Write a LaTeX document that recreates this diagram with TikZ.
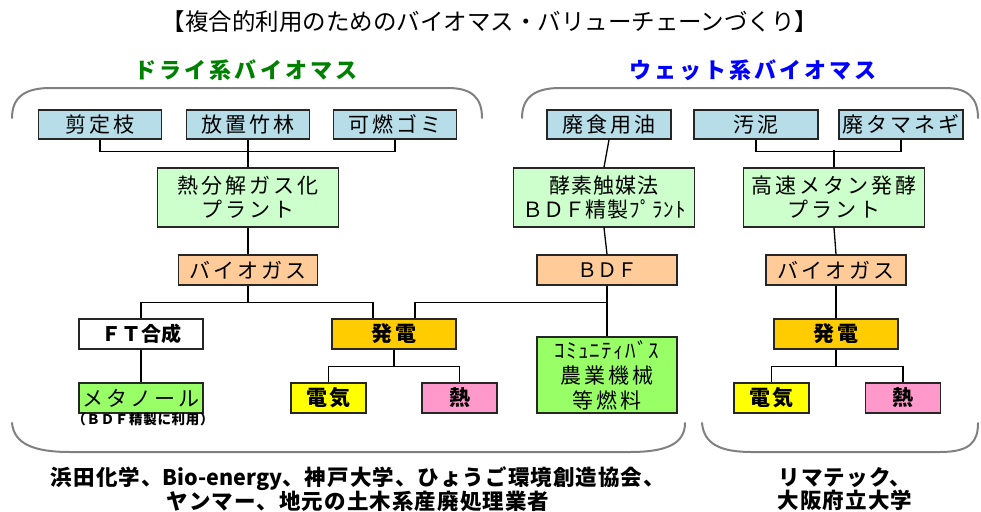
\documentclass[tikz,border=0pt]{standalone}
\usepackage{fontspec}
\setmainfont{Noto Sans CJK JP}
\newfontfamily\jpsp[LetterSpace=14]{Noto Sans CJK JP}
\newfontfamily\jpti[LetterSpace=0]{Noto Sans CJK JP}
\newfontfamily\jpnr[LetterSpace=5]{Noto Sans CJK JP}
\definecolor{srcc}{RGB}{183,221,232}
\definecolor{plantc}{RGB}{204,255,204}
\definecolor{orgc}{RGB}{255,204,153}
\definecolor{hatc}{RGB}{255,204,0}
\definecolor{denc}{RGB}{255,255,0}
\definecolor{netc}{RGB}{255,153,204}
\definecolor{grnc}{RGB}{153,255,102}
\definecolor{brkc}{RGB}{128,128,128}
\tikzset{
  box/.style={draw=black!85,line width=1.4pt,inner sep=0pt,align=center,
    font=\jpsp\fontsize{21}{24}\selectfont},
  boldbox/.style={box,font=\jpsp\bfseries\fontsize{21}{24}\selectfont},
  src/.style={box,fill=srcc,minimum height=29pt},
  plant/.style={box,fill=plantc,minimum height=59pt},
  org/.style={box,fill=orgc,minimum height=30pt},
  conn/.style={line width=1.3pt,black},
  brk/.style={line width=2pt,brkc,line cap=round},
  lbl/.style={align=center,font=\jpnr\bfseries\fontsize{21.5}{23}\selectfont},
}
\begin{document}
\begin{tikzpicture}[x=1pt,y=-1pt]
\useasboundingbox (0,0) rectangle (981,511);
% title and headings
\node (title) at (490,22) {\jpti\fontsize{23.5}{27}\selectfont 【複合的利用のためのバイオマス・バリューチェーンづくり】};
\node[text={rgb,255:red,0;green,128;blue,0}] (hdry) at (246,70) {\jpsp\bfseries\fontsize{22}{26}\selectfont ドライ系バイオマス};
\node[text=blue] (hwet) at (753,70) {\jpsp\bfseries\fontsize{22}{26}\selectfont ウェット系バイオマス};
% brackets
\draw[brk] (12,118) .. controls (12,98) and (24,88) .. (50,88) -- (448,88) .. controls (472,88) and (482,98) .. (482,118);
\draw[brk] (522,118) .. controls (522,98) and (534,88) .. (560,88) -- (945,88) .. controls (968,88) and (978,98) .. (978,118);
\draw[brk] (12,423) .. controls (14,444) and (34,452) .. (70,452) -- (630,452) .. controls (666,452) and (685,444) .. (685,423);
\draw[brk] (702,423) .. controls (704,444) and (720,452) .. (752,452) -- (940,452) .. controls (970,452) and (978,442) .. (978,423);
% sources
\node[src,minimum width=123pt] (s1) at (100,124.5) {剪定枝};
\node[src,minimum width=123pt] (s2) at (248,124.5) {放置竹林};
\node[src,minimum width=123pt] (s3) at (395,124.5) {可燃ゴミ};
\node[src,minimum width=124pt] (s4) at (609,124.5) {廃食用油};
\node[src,minimum width=124pt] (s5) at (756,124.5) {汚泥};
\node[src,minimum width=124pt] (s6) at (901,124.5) {廃タマネギ};
% plants
\node[plant,minimum width=181pt] (p1) at (248,197.5) {熱分解ガス化\\プラント};
\node[plant,minimum width=181pt,font=\jpnr\fontsize{21}{24}\selectfont] (p2) at (604,197.5) {酵素触媒法\\{\addfontfeature{LetterSpace=0}ＢＤＦ}精製ﾌﾟﾗﾝﾄ};
\node[plant,minimum width=181pt] (p3) at (834,197.5) {高速メタン発酵\\プラント};
% products
\node[org,minimum width=139pt] (g1) at (248,270) {バイオガス};
\node[org,minimum width=140pt,font=\jpti\fontsize{20}{24}\selectfont] (g2) at (607,270) {ＢＤＦ};
\node[org,minimum width=140pt] (g3) at (836,270) {バイオガス};
% level 4
\node[boldbox,fill=white,minimum width=124pt,minimum height=30pt,font=\jpti\bfseries\fontsize{20}{24}\selectfont] (ft) at (141,334) {ＦＴ合成};
\node[boldbox,fill=hatc,minimum width=124pt,minimum height=30pt] (h1) at (394,334) {発電};
\node[box,fill=grnc,minimum width=140pt,minimum height=76pt,font=\jpsp\fontsize{21}{25}\selectfont] (cb) at (607,375) {{\addfontfeature{LetterSpace=6}ｺﾐｭﾆﾃｨﾊﾞｽ}\\農業機械\\等燃料};
\node[boldbox,fill=hatc,minimum width=124pt,minimum height=30pt] (h2) at (836,334) {発電};
% level 5
\node[box,fill=grnc,minimum width=124pt,minimum height=30pt] (me) at (141,398) {メタノール};
\node[font=\jpnr\bfseries\fontsize{13.5}{14}\selectfont] (men) at (143,419) {（ＢＤＦ精製に利用）};
\node[boldbox,fill=denc,minimum width=75pt,minimum height=30pt] (e1) at (328.5,398) {電気};
\node[boldbox,fill=netc,minimum width=75pt,minimum height=30pt] (t1) at (459.5,398) {熱};
\node[boldbox,fill=denc,minimum width=75pt,minimum height=30pt] (e2) at (771.5,398) {電気};
\node[boldbox,fill=netc,minimum width=75pt,minimum height=30pt] (t2) at (903,398) {熱};
% connectors
\draw[conn] (s2.south) -- ++(0,12) coordinate (jS);
\draw[conn] (s1.south) |- (jS) -| (s3.south);
\draw[conn] (jS) -- (p1.north);
\draw[conn] (s4.south) -- (p2.north);
\draw[conn] (s5.south) -- ++(0,12) -| (s6.south);
\draw[conn] (p3.north) -- ++(0,-17);
\draw[conn] (p1.south) -- (g1.north);
\draw[conn] (p2.south) -- (g2.north);
\draw[conn] (p3.south) -- (g3.north);
\draw[conn] (g1.south) -- ++(0,17) coordinate (jL);
\draw[conn] (ft.north) |- (jL) -| ([xshift=-21pt]h1.north);
\draw[conn] (g2.south) -- ++(0,17) coordinate (jB);
\draw[conn] (jB) -- (cb.north);
\draw[conn] (jB) -| ([xshift=21pt]h1.north);
\draw[conn] (g3.south) -- (h2.north);
\draw[conn] (ft.south) -- (me.north);
\draw[conn] (h1.south) -- ++(0,17) coordinate (jH);
\draw[conn] (e1.north) |- (jH) -| (t1.north);
\draw[conn] (h2.south) -- ++(0,17) coordinate (jH2);
\draw[conn] (e2.north) |- (jH2) -| (t2.north);
% bottom texts
\node[lbl] (orgL) at (358,489) {浜田化学、{\addfontfeature{LetterSpace=0}Bio-energy}、神戸大学、ひょうご環境創造協会、\\ヤンマー、地元の土木系産廃処理業者};
\node[lbl] (orgR) at (845,489) {リマテック、\\大阪府立大学};
\end{tikzpicture}
\end{document}
